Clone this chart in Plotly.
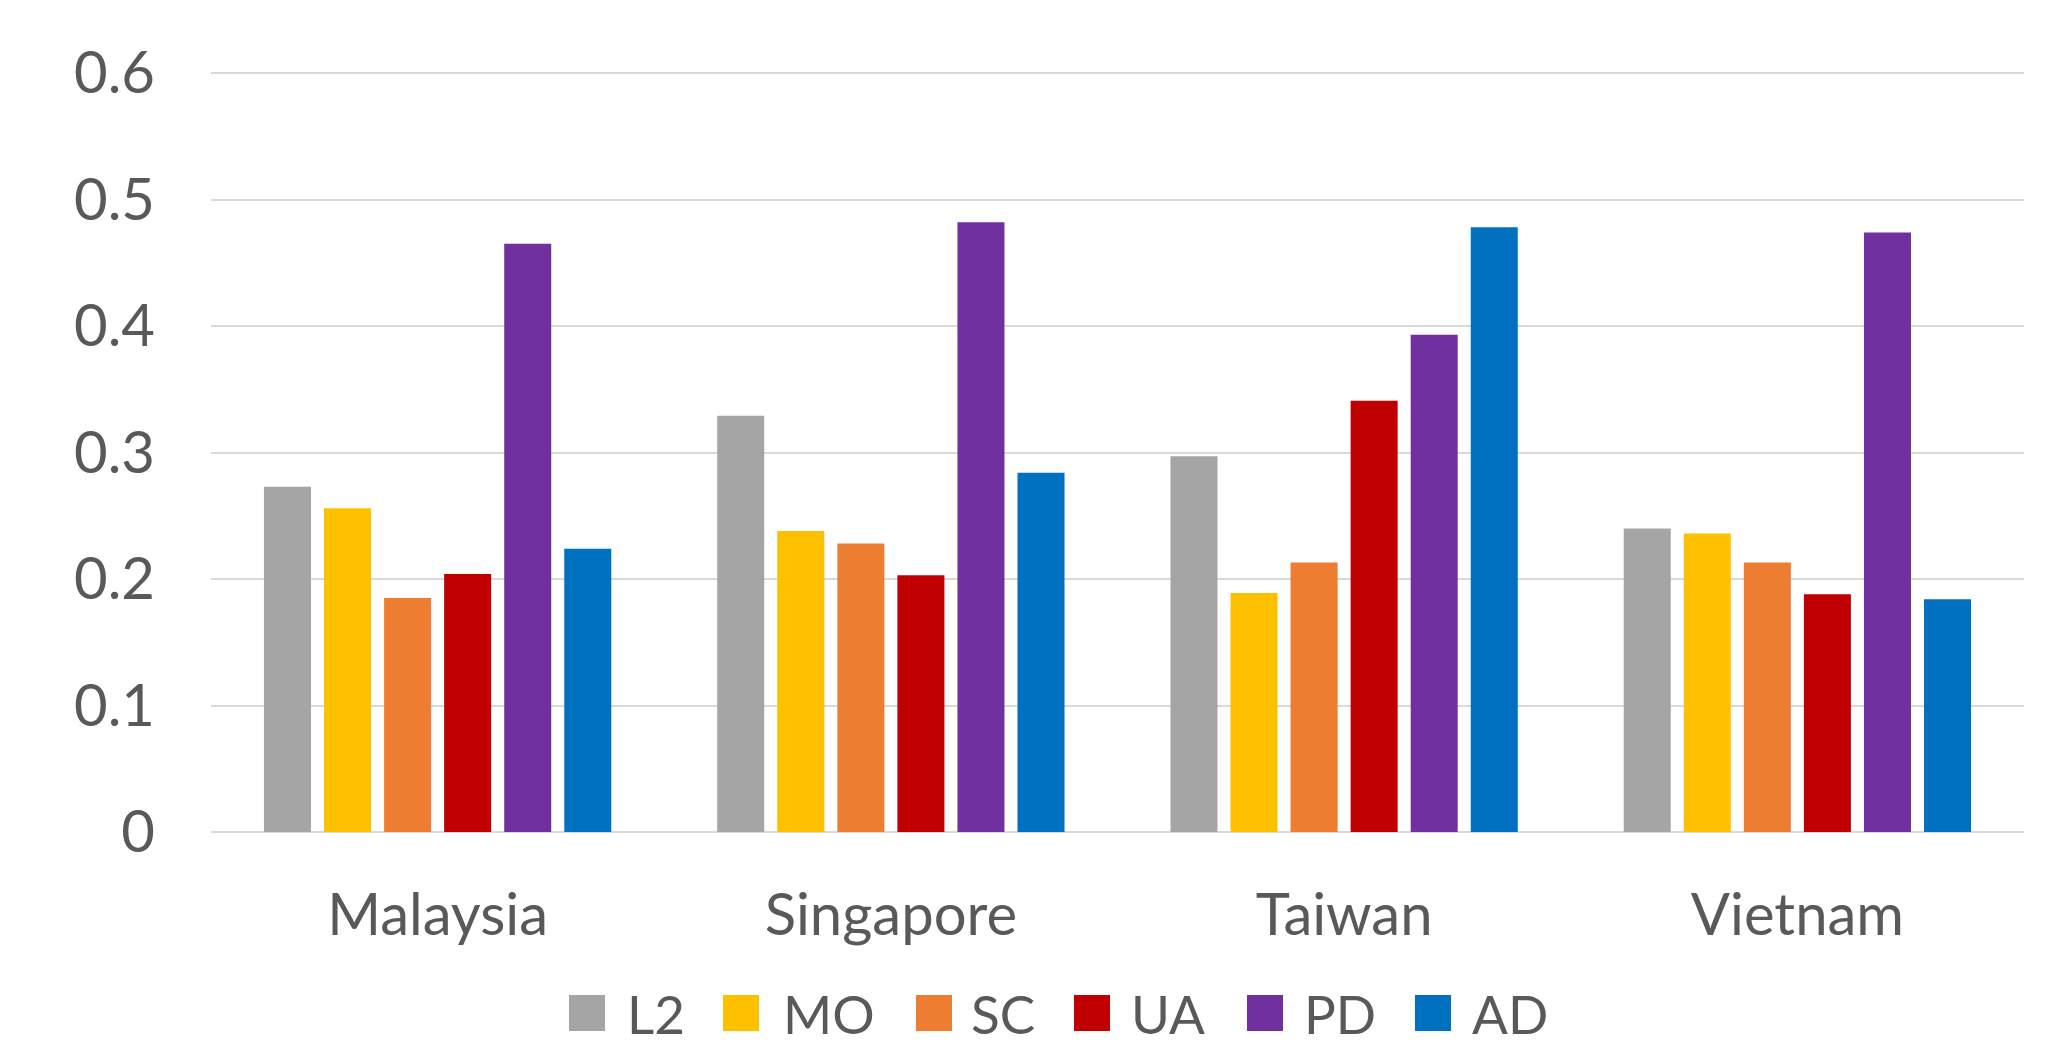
import plotly.graph_objects as go

countries = ["Malaysia", "Singapore", "Taiwan", "Vietnam"]
series_names = ["L2", "MO", "SC", "UA", "PD", "AD"]
L2 = [0.273, 0.329, 0.297, 0.240]
MO = [0.256, 0.238, 0.189, 0.236]
SC = [0.185, 0.228, 0.213, 0.213]
UA = [0.204, 0.203, 0.341, 0.188]
PD = [0.465, 0.482, 0.393, 0.474]
AD = [0.224, 0.284, 0.478, 0.184]
y_ticks = [0, 0.1, 0.2, 0.3, 0.4, 0.5, 0.6]
y_tick_labels = ["0", "0.1", "0.2", "0.3", "0.4", "0.5", "0.6"]

colors = ["#A5A5A5", "#FFC000", "#ED7D31", "#C00000", "#7030A0", "#0070C0"]
values = [L2, MO, SC, UA, PD, AD]

W, H = 2047, 1046
ml, mr, mt, mb = 211, 23, 72, 214
FONT = "Lato"
TXT = "#595959"
FS_AX = 58
FS_LEG = 53

fig = go.Figure()
for name, vals, col in zip(series_names, values, colors):
    fig.add_trace(go.Bar(name=name, x=countries, y=vals, marker_color=col,
                         marker_line_width=0, showlegend=False))

# custom legend (layout decoration)
sq_left = [569, 723, 916, 1074, 1247, 1415]
txt_left = [625, 781, 969, 1129, 1302, 1470]
sq = 36
pw = W - ml - mr
ph = H - mt - mb
for i, name in enumerate(series_names):
    fig.add_shape(type="rect", xref="paper", yref="paper",
                  x0=(sq_left[i] - ml) / pw, x1=(sq_left[i] + sq - ml) / pw,
                  y0=-(1031 - (H - mb)) / ph, y1=-(995 - (H - mb)) / ph,
                  fillcolor=colors[i], line_width=0)
    fig.add_annotation(xref="paper", yref="paper",
                       x=(txt_left[i] - ml) / pw, y=-(1013 - (H - mb)) / ph,
                       xanchor="left", yanchor="middle", text=name, showarrow=False,
                       font=dict(family=FONT, size=FS_LEG, color=TXT))

fig.update_layout(
    width=W, height=H,
    margin=dict(l=ml, r=mr, t=mt, b=mb),
    paper_bgcolor="white", plot_bgcolor="white",
    barmode="group", bargap=0.205, bargroupgap=0.217,
    font=dict(family=FONT, size=FS_AX, color=TXT),
)
fig.update_xaxes(showgrid=False, showline=False, zeroline=False, ticks="",
                 tickfont=dict(family=FONT, size=FS_AX, color=TXT),
                 ticklabelstandoff=44)
fig.update_yaxes(range=[0, 0.6008], tickvals=y_ticks, ticktext=y_tick_labels,
                 showgrid=True, gridcolor="#D9D9D9", gridwidth=2,
                 zeroline=True, zerolinecolor="#D9D9D9", zerolinewidth=2,
                 showline=False, ticks="",
                 tickfont=dict(family=FONT, size=FS_AX, color=TXT),
                 ticklabelstandoff=55)

fig.write_html("out.html")
